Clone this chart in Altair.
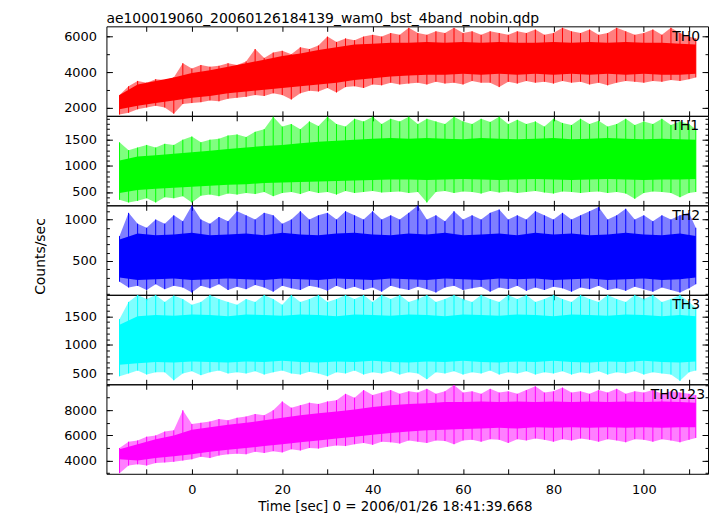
import altair as alt
import pandas as pd

TITLE = "ae100019060_20060126184139_wam0_bst_4band_nobin.qdp"
XTITLE = "Time [sec] 0 = 2006/01/26 18:41:39.668"
YTITLE = "Counts/sec"
NAMES = ["TH0", "TH1", "TH2", "TH3", "TH0123"]
COLORS = ["#ff0000", "#00ff00", "#0000ff", "#00ffff", "#ff00ff"]

X_DOMAIN = [-18.9, 114.2]
X_TICKS = [-10, 0, 10, 20, 30, 40, 50, 60, 70, 80, 90, 100, 110]
X_LABELS = [0, 20, 40, 60, 80, 100]

Y_DOMAINS = [[1530, 6580], [245, 1956], [92, 1171], [310, 1874], [2950, 10060]]
Y_MAJOR = [[2000, 4000, 6000], [500, 1000, 1500], [500, 1000], [500, 1000, 1500], [4000, 6000, 8000]]
Y_MINOR = [
    [2000, 3000, 4000, 5000, 6000],
    [300, 400, 500, 600, 700, 800, 900, 1000, 1100, 1200, 1300, 1400, 1500, 1600, 1700, 1800, 1900],
    [100, 200, 300, 400, 500, 600, 700, 800, 900, 1000, 1100],
    [400, 500, 600, 700, 800, 900, 1000, 1100, 1200, 1300, 1400, 1500, 1600, 1700, 1800],
    [3000, 4000, 5000, 6000, 7000, 8000, 9000, 10000],
]

# time grid of the dense core band (s)
T_CORE = [-16, -12, -8, -4, 0, 4, 8, 12, 16, 20, 24, 28, 32, 36, 40, 44, 48, 52, 56, 60,
          64, 68, 72, 76, 80, 84, 88, 92, 96, 100, 104, 108, 111.5]
# time grid of the spike envelope (s)
T_OUT = [-16, -14, -12, -10, -8, -6, -4, -2, 0, 2,
         4, 6, 8, 10, 12, 14, 16, 18, 20, 22,
         24, 26, 28, 30, 32, 34, 36, 38, 40, 42,
         44, 46, 48, 50, 52, 54, 56, 58, 60, 62,
         64, 66, 68, 70, 72, 74, 76, 78, 80, 82,
         84, 86, 88, 90, 92, 94, 96, 98, 100, 102,
         104, 106, 108, 110, 111.5]

# ---- TH0 ----
TH0_CORE_LO = [1900, 2100, 2250, 2400, 2550, 2650, 2800, 2900, 3000, 3100, 3200, 3300, 3400, 3550, 3650, 3750, 3800, 3850, 3850, 3900,
               3850, 3900, 3850, 3900, 3850, 3900, 3850, 3900, 3850, 3900, 3850, 3850, 3900]
TH0_CORE_HI = [2700, 3300, 3500, 3700, 3950, 4100, 4300, 4500, 4700, 4900, 5050, 5250, 5400, 5550, 5600, 5650, 5650, 5700, 5650, 5700,
               5650, 5700, 5650, 5650, 5700, 5650, 5700, 5650, 5700, 5650, 5650, 5600, 5550]
TH0_OUT_HI = [2700, 3200, 3500, 3400, 3600, 3550, 3700, 4500, 4200, 4400,
              4300, 4350, 4500, 4400, 4600, 5300, 4800, 5100, 5200, 5000,
              5400, 5300, 5500, 6000, 5700, 5900, 5800, 6000, 6100, 6000,
              6200, 6100, 6500, 6200, 6100, 6300, 6200, 6500, 6200, 6300,
              6100, 6300, 6200, 6100, 6300, 6200, 6400, 6100, 6200, 6500,
              6300, 6200, 6400, 6100, 6200, 6500, 6300, 6100, 6200, 6400,
              6100, 6500, 6200, 6000, 5900]
TH0_OUT_LO = [1600, 1700, 1900, 2000, 2100, 2000, 1650, 2200, 2250, 2300,
              2400, 2350, 2500, 2550, 2600, 2700, 2650, 2800, 2700, 2450,
              2800, 2950, 2900, 3100, 2850, 3150, 3200, 3100, 3300, 3250,
              3400, 3300, 3350, 3400, 3300, 3450, 3350, 3400, 3300, 3500,
              3400, 3400, 3150, 3450, 3350, 3500, 3400, 3450, 3350, 3500,
              3400, 3450, 3300, 3400, 3250, 3400, 3500, 3450, 3400, 3500,
              3450, 3550, 3500, 3600, 3700]

# ---- TH1 ----
TH1_CORE_LO = [480, 540, 560, 580, 600, 620, 640, 650, 670, 680, 690, 700, 710, 720, 730, 740, 740, 730, 740, 750,
               740, 730, 740, 750, 740, 730, 740, 750, 740, 730, 740, 740, 750]
TH1_CORE_HI = [1100, 1180, 1200, 1230, 1260, 1290, 1320, 1350, 1380, 1400, 1430, 1460, 1480, 1500, 1520, 1530, 1520, 1530, 1520, 1510,
               1530, 1520, 1510, 1520, 1530, 1510, 1520, 1530, 1520, 1510, 1520, 1510, 1500]
TH1_OUT_HI = [1450, 1300, 1350, 1400, 1350, 1420, 1400, 1500, 1560, 1450,
              1500, 1520, 1580, 1600, 1550, 1650, 1700, 1940, 1750, 1800,
              1700, 1850, 1760, 1940, 1800, 1750, 1900, 1850, 1940, 1800,
              1900, 1850, 1940, 1800, 1900, 1850, 1800, 1940, 1850, 1800,
              1900, 1840, 1940, 1800, 1880, 1800, 1850, 1750, 1900, 1820,
              1780, 1900, 1800, 1860, 1750, 1800, 1900, 1780, 1850, 1800,
              1900, 1780, 1850, 1800, 1700]
TH1_OUT_LO = [350, 300, 330, 380, 300, 400, 380, 420, 300, 430,
              450, 420, 470, 450, 480, 460, 500, 420, 480, 500,
              460, 520, 480, 500, 450, 520, 480, 500, 520, 490,
              500, 510, 480, 500, 300, 500, 520, 480, 510, 500,
              470, 520, 490, 510, 480, 500, 520, 490, 470, 510,
              500, 480, 500, 510, 480, 500, 470, 370, 480, 510,
              500, 480, 400, 480, 500]

# ---- TH2 ----
TH2_CORE_LO = [300, 270, 280, 290, 270, 280, 290, 280, 270, 290, 280, 270, 290, 280, 270, 290, 280, 270, 290, 280,
               270, 290, 280, 290, 270, 280, 290, 270, 280, 290, 270, 280, 300]
TH2_CORE_HI = [760, 830, 810, 820, 840, 810, 820, 830, 810, 840, 820, 810, 830, 840, 820, 810, 830, 820, 840, 810,
               820, 830, 810, 840, 820, 830, 810, 820, 840, 820, 810, 830, 800]
TH2_OUT_HI = [800, 1080, 950, 900, 1000, 950, 1050, 980, 1170, 1000,
              950, 1030, 980, 1100, 1050, 1000, 1080, 1050, 950, 1000,
              1100, 1000, 1050, 1080, 1000, 1100, 1050, 1000, 1100, 1000,
              1050, 1000, 1080, 1170, 1000, 1050, 980, 1100, 1000, 1050,
              1000, 1080, 1120, 1000, 1050, 1000, 1100, 1050, 1000, 1080,
              1000, 1050, 1100, 1150, 1000, 1050, 1130, 1000, 1050, 980,
              1050, 1000, 1050, 1080, 900]
TH2_OUT_LO = [250, 180, 200, 150, 220, 160, 200, 180, 120, 200,
              170, 220, 150, 190, 160, 210, 180, 130, 200, 170,
              150, 200, 180, 140, 200, 160, 190, 150, 180, 130,
              200, 170, 150, 190, 160, 120, 180, 200, 150, 170,
              190, 130, 180, 160, 200, 140, 180, 150, 190, 170,
              130, 180, 160, 200, 150, 170, 140, 190, 160, 130,
              180, 150, 120, 170, 220]

# ---- TH3 ----
TH3_CORE_LO = [650, 680, 700, 690, 710, 700, 690, 710, 700, 720, 700, 690, 710, 700, 720, 700, 690, 710, 700, 720,
               700, 690, 710, 700, 720, 700, 690, 710, 700, 720, 700, 690, 710]
TH3_CORE_HI = [1350, 1500, 1520, 1510, 1530, 1520, 1500, 1530, 1520, 1510, 1530, 1520, 1500, 1530, 1520, 1510, 1530, 1520, 1500, 1530,
               1520, 1510, 1530, 1520, 1500, 1530, 1520, 1510, 1530, 1520, 1500, 1520, 1500]
TH3_OUT_HI = [1450, 1750, 1870, 1800, 1870, 1750, 1860, 1800, 1700, 1750,
              1870, 1800, 1750, 1700, 1800, 1750, 1870, 1800, 1700, 1870,
              1750, 1800, 1870, 1750, 1800, 1870, 1800, 1870, 1750, 1870,
              1800, 1870, 1750, 1800, 1870, 1750, 1800, 1870, 1800, 1750,
              1870, 1800, 1750, 1870, 1800, 1870, 1750, 1800, 1870, 1800,
              1750, 1870, 1800, 1750, 1870, 1800, 1750, 1870, 1800, 1870,
              1750, 1800, 1870, 1750, 1650]
TH3_OUT_LO = [450, 500, 550, 480, 520, 520, 380, 500, 540, 470,
              520, 550, 500, 520, 500, 540, 480, 520, 550, 500,
              480, 530, 500, 450, 520, 500, 550, 480, 520, 500,
              540, 480, 520, 500, 400, 520, 500, 540, 480, 520,
              500, 550, 480, 520, 500, 540, 480, 520, 500, 540,
              480, 520, 500, 540, 480, 520, 500, 540, 480, 520,
              500, 480, 370, 520, 550]

# ---- TH0123 ----
TH0123_CORE_LO = [4100, 4000, 4200, 4350, 4500, 4700, 4850, 5000, 5150, 5300, 5450, 5600, 5750, 5900, 6050, 6200, 6300, 6400, 6450, 6500,
                  6550, 6600, 6550, 6650, 6600, 6650, 6600, 6650, 6600, 6650, 6600, 6650, 6650]
TH0123_CORE_HI = [4900, 5300, 5700, 6000, 6450, 6650, 6850, 7000, 7200, 7400, 7600, 7750, 7900, 8050, 8250, 8400, 8500, 8550, 8650, 8650,
                  8700, 8650, 8700, 8650, 8700, 8650, 8700, 8650, 8700, 8650, 8700, 8650, 8600]
TH0123_OUT_HI = [5000, 5500, 5600, 5900, 6000, 6300, 6400, 8000, 6900, 7000,
                 7100, 7300, 7200, 7400, 7500, 7700, 7600, 8000, 8700, 8200,
                 8400, 8600, 8500, 8700, 8800, 9300, 9000, 9600, 9200, 9400,
                 9600, 9300, 9500, 9400, 9700, 9300, 9500, 10000, 9400, 9500,
                 9300, 9700, 9400, 9500, 9300, 9600, 9900, 9400, 9500, 9800,
                 9400, 9500, 9300, 9600, 9400, 9700, 9300, 9500, 9400, 9600,
                 9300, 9500, 9400, 9300, 9200]
TH0123_OUT_LO = [3000, 3600, 3700, 3600, 3800, 3850, 3900, 4000, 4100, 4300,
                 4200, 4400, 4500, 4550, 4500, 4700, 4600, 4750, 4650, 4900,
                 4800, 5000, 4950, 5100, 5200, 5150, 5300, 5400, 5250, 5500,
                 5450, 5350, 5600, 5500, 5400, 5600, 5550, 5300, 5600, 5650,
                 5500, 5700, 5650, 5400, 5700, 5600, 5750, 5650, 5500, 5700,
                 5600, 5750, 5650, 5500, 5700, 5600, 5450, 5700, 5650, 5500,
                 5700, 5600, 5450, 5650, 5800]

CORE = [(TH0_CORE_LO, TH0_CORE_HI), (TH1_CORE_LO, TH1_CORE_HI), (TH2_CORE_LO, TH2_CORE_HI),
        (TH3_CORE_LO, TH3_CORE_HI), (TH0123_CORE_LO, TH0123_CORE_HI)]
OUTER = [(TH0_OUT_LO, TH0_OUT_HI), (TH1_OUT_LO, TH1_OUT_HI), (TH2_OUT_LO, TH2_OUT_HI),
         (TH3_OUT_LO, TH3_OUT_HI), (TH0123_OUT_LO, TH0123_OUT_HI)]

# ---- style ----
FONT = "DejaVu Sans"
PW, PH = 605, 90
LABEL_X = [597, 596, 597, 597, 602]
LABEL_Y = 10.5


def panel(i):
    name, color = NAMES[i], COLORS[i]
    core = pd.DataFrame({"t": T_CORE, "lo": CORE[i][0], "hi": CORE[i][1]})
    outer = pd.DataFrame({"t": T_OUT, "lo": OUTER[i][0], "hi": OUTER[i][1]})
    xs = alt.Scale(domain=X_DOMAIN, nice=False, zero=False)
    ys = alt.Scale(domain=Y_DOMAINS[i], nice=False, zero=False)
    last = i == len(NAMES) - 1

    if last:
        x_lab_axis = alt.Axis(orient="bottom", values=X_LABELS, format="d", ticks=False, domain=False,
                              grid=False, labelPadding=10, labelFontSize=13, labelFont=FONT,
                              title=XTITLE, titleFontSize=13.5, titleFont=FONT, titleFontWeight="normal",
                              titleX=290, titleY=33, titleAlign="center", titleBaseline="middle")
    else:
        x_lab_axis = None

    if i == 2:
        y_lab_axis = alt.Axis(orient="left", values=Y_MAJOR[i], format="d", ticks=False, domain=False,
                              grid=False, labelPadding=10, labelFontSize=13, labelFont=FONT,
                              title=YTITLE, titleFontSize=14, titleFont=FONT, titleFontWeight="normal",
                              titleX=-66, titleY=51, titleAngle=-90, titleAlign="center",
                              titleBaseline="middle")
    else:
        y_lab_axis = alt.Axis(orient="left", values=Y_MAJOR[i], format="d", ticks=False, domain=False,
                              grid=False, labelPadding=10, labelFontSize=13, labelFont=FONT, title=None)

    l_outer = alt.Chart(outer).mark_area(color=color, opacity=0.5).encode(
        x=alt.X("t:Q", scale=xs, axis=x_lab_axis),
        y=alt.Y("lo:Q", scale=ys, axis=y_lab_axis),
        y2="hi:Q",
    )
    l_spikes = alt.Chart(outer).mark_rule(color=color, strokeWidth=1).encode(
        x=alt.X("t:Q", scale=xs, axis=None),
        y=alt.Y("lo:Q", scale=ys, axis=None),
        y2="hi:Q",
    )
    l_core = alt.Chart(core).mark_area(color=color, opacity=1).encode(
        x=alt.X("t:Q", scale=xs, axis=None),
        y=alt.Y("lo:Q", scale=ys, axis=None),
        y2="hi:Q",
    )

    def tick_layer(xorient, yorient, yvalues, ysize):
        xa = None
        if xorient is not None:
            xa = alt.Axis(orient=xorient, values=X_TICKS, labels=False, domain=False, grid=False,
                          tickSize=5, offset=-5, title=None, tickColor="black")
        ya = alt.Axis(orient=yorient, values=yvalues, labels=False, domain=False, grid=False,
                      tickSize=ysize, offset=-ysize, title=None, tickColor="black")
        return alt.Chart(core).mark_point(opacity=0, size=1).encode(
            x=alt.X("t:Q", scale=xs, axis=xa),
            y=alt.Y("lo:Q", scale=ys, axis=ya),
        )

    t1 = tick_layer("bottom", "left", Y_MAJOR[i], 6)
    t2 = tick_layer("top", "left", Y_MINOR[i], 3)
    t3 = tick_layer(None, "right", Y_MAJOR[i], 6)
    t4 = tick_layer(None, "right", Y_MINOR[i], 3)

    txt = alt.Chart(pd.DataFrame({"label": [name]})).mark_text(
        align="right", baseline="middle", font=FONT, fontSize=14, color="black"
    ).encode(text="label:N", x=alt.value(LABEL_X[i]), y=alt.value(LABEL_Y))

    layer = alt.layer(l_outer, l_spikes, l_core, t1, t2, t3, t4, txt).resolve_axis(
        x="independent", y="independent"
    ).properties(width=PW, height=PH)
    if i == 0:
        layer = layer.properties(title=alt.TitleParams(
            text=TITLE, anchor="start", frame="group", fontSize=14, font=FONT,
            fontWeight="normal", color="black", offset=0))
    return layer


chart = alt.vconcat(*[panel(i) for i in range(len(NAMES))], spacing=0, bounds="flush").properties(
    padding={"left": 25, "top": 2, "right": 0, "bottom": 0}
).configure_view(stroke="black", strokeWidth=1).configure_axis(grid=False)

chart.save("out.html", embed_options={"renderer": "svg", "actions": False})
